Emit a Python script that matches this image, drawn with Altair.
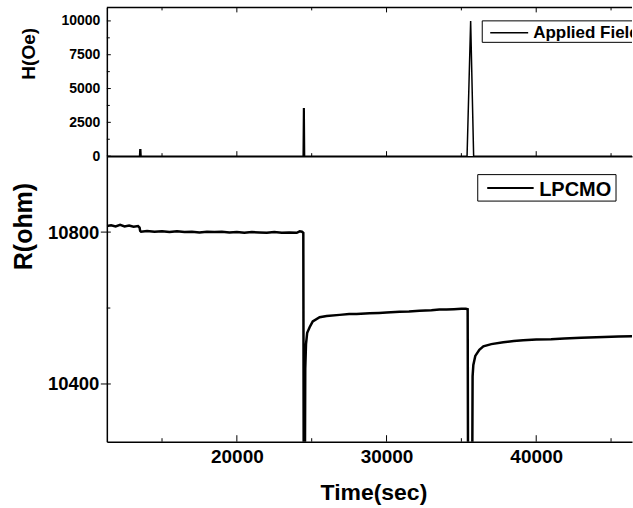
import altair as alt
import pandas as pd

FONT = "Liberation Sans"

# ---------------- data ----------------
# Applied field H (Oe) vs time (sec)
h_time = [11000, 13500, 13520, 13580, 13600, 24430, 24455, 24500, 24525,
          35380, 35620, 35820, 47500]
h_field = [0, 0, 480, 480, 0, 0, 3500, 3500, 0,
           0, 10000, 0, 0]

# Resistance of LPCMO (ohm) vs time (sec)
r_time = [11313, 11600, 11900, 12200, 12500, 12800, 13100, 13400, 13500, 13540,
          13600, 14000, 14500, 15000, 15500, 16000, 16500, 17000, 17500, 18000,
          18500, 19000, 19500, 20000, 20500, 21000, 21500, 22000, 22500, 23000,
          23500, 24000, 24200, 24350, 24440, 24470, 24540, 24570, 24620, 24700,
          24870, 25070, 25530, 26000, 26870, 27500, 28000, 28870, 29500, 30000,
          30870, 31500, 32200, 33000, 33530, 34000, 34500, 35000, 35300, 35420,
          35450, 35720, 35750, 35800, 35930, 36200, 36470, 37000, 37800, 38500,
          39130, 40000, 41000, 41870, 43000, 44530, 45500, 46400, 47500]
r_res = [10816, 10818, 10815, 10819, 10815, 10817, 10814, 10816, 10812, 10803,
         10801, 10803, 10801, 10802, 10800, 10802, 10800, 10801, 10799, 10801,
         10800, 10801, 10799, 10800, 10798, 10800, 10799, 10798, 10800, 10798,
         10799, 10798, 10802, 10801, 10798, 10100, 10100, 10440, 10505, 10535,
         10550, 10565, 10576, 10579, 10582, 10584, 10584, 10586, 10587, 10588,
         10590, 10591, 10593, 10594, 10596, 10596, 10597, 10598, 10598, 10597,
         10100, 10100, 10420, 10450, 10474, 10490, 10499, 10505, 10510, 10513,
         10515, 10517, 10518, 10520, 10522, 10524, 10525, 10526, 10527]

x_domain = [11313, 46400]
h_domain = [0, 11000]
r_domain = [10248, 11000]

x_major = [20000, 30000, 40000]
x_minor = [15000, 25000, 35000, 45000]
h_major = [0, 2500, 5000, 7500, 10000]
h_minor = [1250, 3750, 6250, 8750]
r_major = [10400, 10800]
r_minor = [10600]

series_top = ["Applied Field"]
series_bot = ["LPCMO"]

# ---------------- layout ----------------
W = 526
H_TOP = 149
H_BOT = 286

xs = alt.Scale(domain=x_domain, nice=False, zero=False)
hs = alt.Scale(domain=h_domain, nice=False, zero=False)
rs = alt.Scale(domain=r_domain, nice=False, zero=False)

field_df = pd.DataFrame({"t": h_time, "v": h_field})
res_df = pd.DataFrame({"t": r_time, "v": r_res})

# ---------- axes ----------
ax_top_x = alt.Axis(labels=False, ticks=False, title=None, grid=False,
                    domainColor="black", domainWidth=1.5)
ax_top_y = alt.Axis(
    values=h_major, ticks=False, grid=False, format="d",
    labelFont=FONT, labelFontSize=14, labelFontWeight="bold", labelColor="black",
    labelPadding=7, domainColor="black", domainWidth=1.5,
    title="H(Oe)", titleFont=FONT, titleFontSize=19, titleFontWeight="bold",
    titleColor="black", titleAngle=270, titleX=-78, titleY=46,
    titleAlign="center", titleBaseline="middle")
ax_bot_x = alt.Axis(
    values=x_major, ticks=False, grid=False, format="d",
    labelFont=FONT, labelFontSize=19, labelFontWeight="bold", labelColor="black",
    labelPadding=6, domainColor="black", domainWidth=1.5,
    title="Time(sec)", titleFont=FONT, titleFontSize=23, titleFontWeight="bold",
    titleColor="black", titleX=267, titleY=58, titleAlign="center",
    titleBaseline="alphabetic")
ax_bot_y = alt.Axis(
    values=r_major, ticks=False, grid=False, format="d",
    labelFont=FONT, labelFontSize=18.5, labelFontWeight="bold", labelColor="black",
    labelPadding=8, domainColor="black", domainWidth=1.5,
    title="R(ohm)", titleFont=FONT, titleFontSize=25, titleFontWeight="bold",
    titleColor="black", titleAngle=270, titleX=-83, titleY=70,
    titleAlign="center", titleBaseline="middle")


def xticks(vals, y0, y1, scale, axis, width=1):
    return alt.Chart(pd.DataFrame({"t": vals})).mark_rule(
        color="black", strokeWidth=width).encode(
        x=alt.X("t:Q", scale=scale, axis=axis),
        y=alt.value(y0), y2=alt.value(y1))


def yticks(vals, x0, x1, scale, axis, width=1):
    return alt.Chart(pd.DataFrame({"v": vals})).mark_rule(
        color="black", strokeWidth=width).encode(
        y=alt.Y("v:Q", scale=scale, axis=axis),
        x=alt.value(x0), x2=alt.value(x1))


def const():
    return alt.Chart(pd.DataFrame({"a": [0]}))


# ---------- top panel ----------
top_line = alt.Chart(field_df).mark_line(color="black", strokeWidth=1.5, clip=True).encode(
    x=alt.X("t:Q", scale=xs, axis=ax_top_x),
    y=alt.Y("v:Q", scale=hs, axis=ax_top_y),
)

top_border = const().mark_rule(color="black", strokeWidth=1.5).encode(
    x=alt.value(0), x2=alt.value(W), y=alt.value(0))

top_leg_box = const().mark_rect(
    fill="white", stroke="black", strokeWidth=1, clip=True).encode(
    x=alt.value(376), x2=alt.value(640), y=alt.value(13.5), y2=alt.value(35))
top_leg_line = const().mark_rule(color="black", strokeWidth=1.5).encode(
    x=alt.value(384), x2=alt.value(422), y=alt.value(25.5))
top_leg_text = alt.Chart(pd.DataFrame({"s": series_top})).mark_text(
    font=FONT, fontSize=17, fontWeight="bold", color="black", align="left",
    baseline="alphabetic", clip=True).encode(
    text="s:N", x=alt.value(427), y=alt.value(30.5))

top = alt.layer(
    top_line,
    top_border,
    xticks(x_major, H_TOP, H_TOP - 5, xs, ax_top_x),
    xticks(x_minor, H_TOP, H_TOP - 3, xs, ax_top_x),
    xticks(x_major, 0, 5, xs, ax_top_x),
    xticks(x_minor, 0, 3, xs, ax_top_x),
    yticks(h_major, 0, 4, hs, ax_top_y),
    yticks(h_minor, 0, 3, hs, ax_top_y),
    top_leg_box, top_leg_line, top_leg_text,
).properties(width=W, height=H_TOP)

# ---------- bottom panel ----------
bot_line = alt.Chart(res_df).mark_line(color="black", strokeWidth=2.5, clip=True).encode(
    x=alt.X("t:Q", scale=xs, axis=ax_bot_x),
    y=alt.Y("v:Q", scale=rs, axis=ax_bot_y),
)

bot_leg_box = const().mark_rect(
    fill="white", stroke="black", strokeWidth=1).encode(
    x=alt.value(371.5), x2=alt.value(510), y=alt.value(18.5), y2=alt.value(45))
bot_leg_line = const().mark_rule(color="black", strokeWidth=2).encode(
    x=alt.value(381), x2=alt.value(427.5), y=alt.value(32))
bot_leg_text = alt.Chart(pd.DataFrame({"s": series_bot})).mark_text(
    font=FONT, fontSize=20, fontWeight="bold", color="black", align="left",
    baseline="alphabetic").encode(
    text="s:N", x=alt.value(433), y=alt.value(39.5))

bot = alt.layer(
    bot_line,
    xticks(x_major, H_BOT, H_BOT - 6.5, xs, ax_bot_x),
    xticks(x_minor, H_BOT, H_BOT - 3.5, xs, ax_bot_x),
    yticks(r_major, -6, 4, rs, ax_bot_y),
    yticks(r_minor, 0, 3.5, rs, ax_bot_y),
    bot_leg_box, bot_leg_line, bot_leg_text,
).properties(width=W, height=H_BOT)

chart = alt.vconcat(top, bot, spacing=0, bounds="flush").properties(
    padding={"left": 12, "top": 6, "right": 0, "bottom": 0},
    background="white",
).configure_view(stroke=None)

chart.save("out.html", embed_options={"renderer": "svg", "actions": False})
